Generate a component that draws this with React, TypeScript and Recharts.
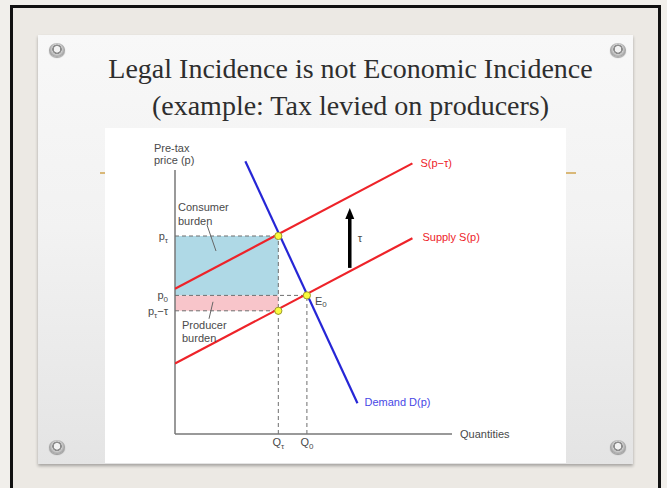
import { ComposedChart, Line, XAxis, YAxis, ReferenceArea, ReferenceLine, ReferenceDot } from 'recharts'

// equilibrium / tax values (quantity units, pre-tax price units)
const Q_TAX = 47
const Q_ZERO = 60
const P_TAX = 90
const P_ZERO = 63
const P_NET = 56
const AXIS_TOP = 120
const AXIS_RIGHT = 126

const SUPPLY = [{ q: 0, p: 32 }, { q: 108, p: 89 }]
const SUPPLY_TAXED = [{ q: 0, p: 66 }, { q: 108, p: 123 }]
const DEMAND = [{ q: 32, p: 124 }, { q: 83, p: 14 }]
const TAU_ARROW = [{ q: 79.5, p: 75.5 }, { q: 79.5, p: 98 }]
const TAU_TIP = { q: 79.5, p: 102.7 }

const PRICE_TICKS = [P_TAX, P_ZERO, P_NET]
const PRICE_TICK_LABELS = [
  { base: 'p', sub: 'τ', tail: '' },
  { base: 'p', sub: '0', tail: '' },
  { base: 'p', sub: 'τ', tail: '−τ' },
]
const QTY_TICKS = [Q_TAX, Q_ZERO]
const QTY_TICK_LABELS = [
  { base: 'Q', sub: 'τ' },
  { base: 'Q', sub: '0' },
]

const FONT = '"Liberation Sans", Arial, sans-serif'
const TEXT = '#4a4a4a'
const RED = '#ee2329'
const BLUE = '#2626d6'
const DASH = '#6f6f6f'

function PriceTick(props: any) {
  const i = PRICE_TICKS.indexOf(props.payload.value)
  const t = PRICE_TICK_LABELS[i]
  if (!t) return null
  return (
    <text x={props.x + 1} y={props.y + 4} textAnchor="end" fontFamily={FONT} fontSize={11} fill={TEXT}>
      <tspan>{t.base}</tspan>
      <tspan fontSize={8} dy={3}>{t.sub}</tspan>
      {t.tail ? <tspan dy={-3}>{t.tail}</tspan> : null}
    </text>
  )
}

function QtyTick(props: any) {
  const i = QTY_TICKS.indexOf(props.payload.value)
  const t = QTY_TICK_LABELS[i]
  if (!t) return null
  return (
    <text x={props.x} y={props.y + 4} textAnchor="middle" fontFamily={FONT} fontSize={11} fill={TEXT}>
      <tspan>{t.base}</tspan>
      <tspan fontSize={8} dy={3}>{t.sub}</tspan>
    </text>
  )
}

const label = (lines: string[], dx: number, dy: number, color = TEXT, step = 13) => (props: any) => (
  <text x={props.cx + dx} y={props.cy + dy} fontFamily={FONT} fontSize={11} fill={color}>
    {lines.map((l, i) => (
      <tspan key={i} x={props.cx + dx} dy={i === 0 ? 0 : step}>{l}</tspan>
    ))}
  </text>
)

function Screw({ x, y }: { x: number; y: number }) {
  return (
    <div
      style={{
        position: 'absolute',
        left: x - 8,
        top: y - 7,
        width: 16,
        height: 14,
        borderRadius: '50%',
        background: 'radial-gradient(circle at 50% 45%, #f2f2f2 0 3px, #8d8d8d 3.5px 4.5px, #cfcfcf 5px, #9a9a9a 8px)',
        boxShadow: '0 1px 1px rgba(0,0,0,0.35)',
      }}
    />
  )
}

function IncidenceChart() {
  return (
    <ComposedChart width={461} height={335} margin={{ top: 31, right: 114, bottom: 9, left: 40 }}>
      <XAxis
        type="number"
        dataKey="q"
        domain={[0, AXIS_RIGHT]}
        ticks={QTY_TICKS}
        interval={0}
        height={20}
        axisLine={{ stroke: '#777', strokeWidth: 1.5 }}
        tickLine={false}
        tick={QtyTick}
        allowDataOverflow
      />
      <YAxis
        type="number"
        dataKey="p"
        domain={[0, 125]}
        ticks={PRICE_TICKS}
        interval={0}
        width={30}
        axisLine={false}
        tickLine={false}
        tick={PriceTick}
        allowDataOverflow
      />
      <ReferenceArea x1={0} x2={Q_TAX} y1={P_ZERO} y2={P_TAX} fill="#afd9e6" fillOpacity={1} stroke="none" />
      <ReferenceArea x1={0} x2={Q_TAX} y1={P_NET} y2={P_ZERO} fill="#f8c5ca" fillOpacity={1} stroke="none" />

      <ReferenceLine segment={[{ x: 0, y: 0 }, { x: 0, y: AXIS_TOP }]} stroke="#777" strokeWidth={1.5} />
      <ReferenceLine segment={[{ x: 0, y: P_TAX }, { x: Q_TAX, y: P_TAX }]} stroke={DASH} strokeDasharray="4 3" />
      <ReferenceLine segment={[{ x: 0, y: P_ZERO }, { x: Q_ZERO, y: P_ZERO }]} stroke={DASH} strokeDasharray="4 3" />
      <ReferenceLine segment={[{ x: 0, y: P_NET }, { x: Q_TAX, y: P_NET }]} stroke={DASH} strokeDasharray="4 3" />
      <ReferenceLine segment={[{ x: Q_TAX, y: 0 }, { x: Q_TAX, y: P_TAX }]} stroke={DASH} strokeDasharray="4 3" />
      <ReferenceLine segment={[{ x: Q_ZERO, y: 0 }, { x: Q_ZERO, y: P_ZERO }]} stroke={DASH} strokeDasharray="4 3" />

      <Line data={SUPPLY} dataKey="p" type="linear" stroke={RED} strokeWidth={2.2} dot={false} isAnimationActive={false} />
      <Line data={SUPPLY_TAXED} dataKey="p" type="linear" stroke={RED} strokeWidth={2.2} dot={false} isAnimationActive={false} />
      <Line data={DEMAND} dataKey="p" type="linear" stroke={BLUE} strokeWidth={2.2} dot={false} isAnimationActive={false} />
      <Line data={TAU_ARROW} dataKey="p" type="linear" stroke="#000" strokeWidth={3.5} dot={false} isAnimationActive={false} />

      <ReferenceDot
        x={TAU_TIP.q}
        y={TAU_TIP.p}
        shape={(p: any) => (
          <polygon points={`${p.cx},${p.cy} ${p.cx - 4.5},${p.cy + 11} ${p.cx + 4.5},${p.cy + 11}`} fill="#000" />
        )}
      />

      {[
        { x: Q_TAX, y: P_TAX },
        { x: Q_ZERO, y: P_ZERO },
        { x: Q_TAX, y: P_NET },
      ].map((d, i) => (
        <ReferenceDot key={i} x={d.x} y={d.y} r={3.6} fill="#fbfb3c" stroke="#9a9a2c" strokeWidth={1} />
      ))}

      <ReferenceDot x={0} y={AXIS_TOP} shape={label(['Pre-tax', 'price (p)'], -21, -18, TEXT, 12)} />
      <ReferenceDot
        x={0}
        y={P_TAX}
        shape={(p: any) => (
          <g>
            {label(['Consumer', 'burden'], 3, -25, TEXT, 14)(p)}
            <line x1={p.cx + 32} y1={p.cy - 11} x2={p.cx + 41} y2={p.cy + 15} stroke="#666" strokeWidth={1} />
          </g>
        )}
      />
      <ReferenceDot
        x={0}
        y={P_NET}
        shape={(p: any) => (
          <g>
            {label(['Producer', 'burden'], 7, 18, TEXT, 13)(p)}
            <line x1={p.cx + 38} y1={p.cy - 9} x2={p.cx + 34} y2={p.cy + 8} stroke="#666" strokeWidth={1} />
          </g>
        )}
      />
      <ReferenceDot
        x={Q_ZERO}
        y={P_ZERO}
        shape={(p: any) => (
          <text x={p.cx + 8} y={p.cy + 10} fontFamily={FONT} fontSize={11} fill={TEXT}>
            <tspan>E</tspan>
            <tspan fontSize={8} dy={2}>0</tspan>
          </text>
        )}
      />
      <ReferenceDot x={TAU_ARROW[0].q} y={TAU_ARROW[0].p} shape={label(['τ'], 8, -26)} />
      <ReferenceDot x={SUPPLY_TAXED[1].q} y={SUPPLY_TAXED[1].p} shape={label(['S(p−τ)'], 8, 4, RED)} />
      <ReferenceDot x={SUPPLY[1].q} y={SUPPLY[1].p} shape={label(['Supply S(p)'], 10, 3, RED)} />
      <ReferenceDot x={DEMAND[1].q} y={DEMAND[1].p} shape={label(['Demand D(p)'], 7, 3, '#4848e6')} />
      <ReferenceDot x={AXIS_RIGHT} y={0} shape={label(['Quantities'], 8, 4)} />
    </ComposedChart>
  )
}

export default function App() {
  return (
    <div style={{ position: 'fixed', left: 0, top: 0, width: 667, height: 488, background: '#f1efeb', overflow: 'hidden' }}>
      <div
        style={{
          position: 'absolute',
          left: 10,
          top: 5,
          width: 645,
          height: 500,
          border: '3px solid #111',
          background: '#ece9e4',
        }}
      />
      <div
        style={{
          position: 'absolute',
          left: 38,
          top: 35,
          width: 595,
          height: 429,
          background: 'linear-gradient(180deg, #f8f8f8 0%, #f2f2f2 45%, #e4e4e4 100%)',
          boxShadow: '0 2px 3px rgba(0,0,0,0.3)',
        }}
      />
      <div style={{ position: 'absolute', left: 100, top: 172, width: 476, height: 1.5, background: '#d9b878' }} />
      <div
        style={{
          position: 'absolute',
          left: 0,
          top: 50,
          width: 701,
          textAlign: 'center',
          fontFamily: '"Liberation Serif", "Times New Roman", serif',
          fontSize: 28,
          lineHeight: '37px',
          color: '#2e2e2e',
        }}
      >
        <div>Legal Incidence is not Economic Incidence</div>
        <div>(example: Tax levied on producers)</div>
      </div>
      <Screw x={57} y={50} />
      <Screw x={618} y={50} />
      <Screw x={57} y={447} />
      <Screw x={618} y={447} />
      <div style={{ position: 'absolute', left: 105, top: 128, width: 461, height: 335, background: '#fff' }}>
        <IncidenceChart />
      </div>
    </div>
  )
}
